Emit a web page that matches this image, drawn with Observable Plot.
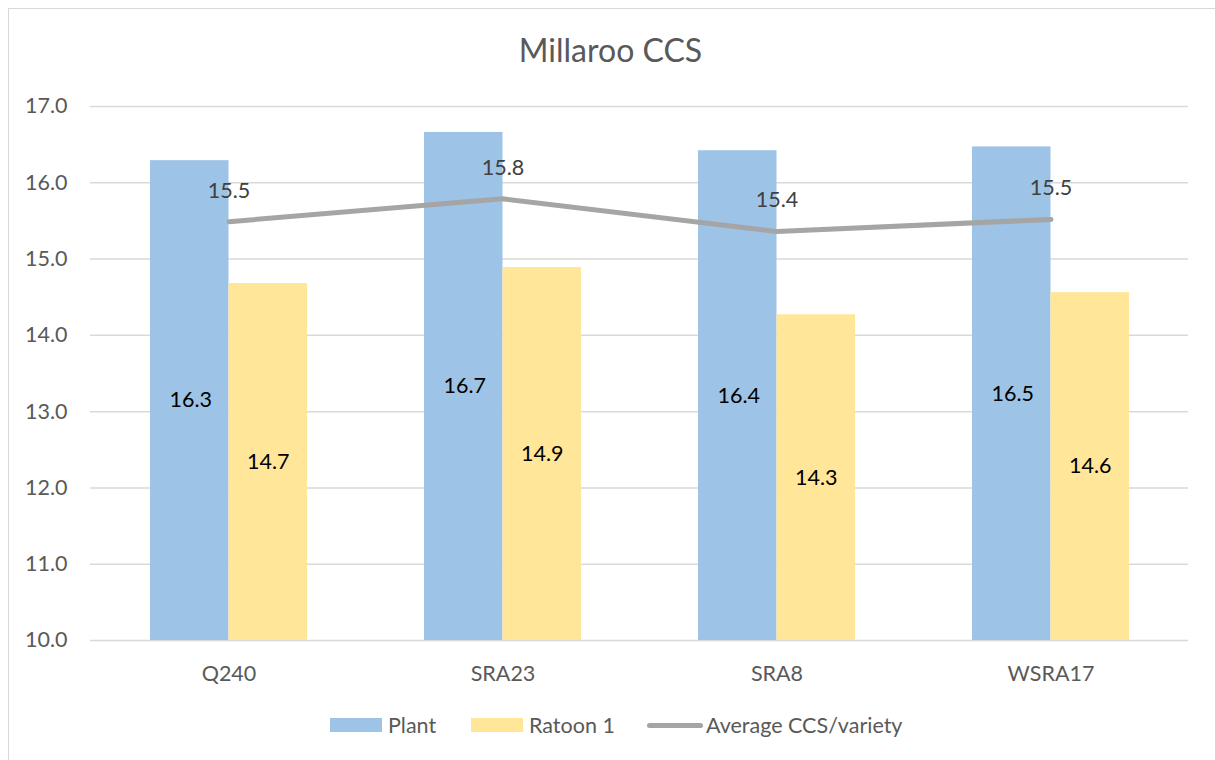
<!DOCTYPE html>
<html>
<head>
<meta charset="utf-8">
<script src="https://cdn.jsdelivr.net/npm/d3@7"></script>
<script src="https://cdn.jsdelivr.net/npm/@observablehq/plot@0.6"></script>
<style>
  html, body { margin: 0; padding: 0; background: #fff; }
  body { width: 1215px; height: 760px; position: relative; overflow: hidden; font-family: Lato, "Open Sans", sans-serif; }
  #frame { position: absolute; left: 8px; top: 8px; width: 1300px; height: 900px; border-top: 1.5px solid #d9d9d9; border-left: 1.5px solid #d9d9d9; }
  #title { position: absolute; left: 0; width: 1221px; top: 30px; text-align: center; font-size: 32px; color: #595959; line-height: 40px; }
  #chart { position: absolute; left: 0; top: 0; }
  #legend { position: absolute; left: 0; top: 713px; height: 24px; width: 1215px; font-size: 21.5px; color: #595959; }
  .item { position: absolute; top: 0; display: flex; align-items: center; height: 24px; white-space: nowrap; }
  .sw { display: inline-block; width: 52px; height: 14px; margin-right: 6px; }
  .ln { display: inline-block; width: 56px; height: 5px; border-radius: 3px; background: #a5a5a5; margin-right: 3px; }
</style>
</head>
<body>
<div id="frame"></div>
<div id="title">Millaroo CCS</div>
<div id="chart"></div>
<div id="legend">
  <div class="item" style="left:330px"><span class="sw" style="background:#9dc3e6"></span>Plant</div>
  <div class="item" style="left:471px"><span class="sw" style="background:#ffe699"></span>Ratoon 1</div>
  <div class="item" style="left:647px"><span class="ln"></span>Average CCS/variety</div>
</div>
<script>
const categories = ["Q240", "SRA23", "SRA8", "WSRA17"];
const plant = [16.29, 16.66, 16.42, 16.47];
const ratoon = [14.68, 14.89, 14.27, 14.56];
const average = [15.49, 15.79, 15.36, 15.52];
const yTicks = [10, 11, 12, 13, 14, 15, 16, 17];

const plantData = categories.map((c, i) => ({category: c, value: plant[i]}));
const ratoonData = categories.map((c, i) => ({category: c, value: ratoon[i]}));
const avgData = categories.map((c, i) => ({category: c, value: average[i]}));

const W = 1215, H = 700;
const half = 157 / 2;
const FS = 21.5;

const chart = Plot.plot({
  width: W,
  height: H,
  marginLeft: 90,
  marginRight: 27,
  marginTop: 106,
  marginBottom: 60,
  style: { fontFamily: "Lato, 'Open Sans', sans-serif", fontSize: FS + "px", background: "transparent", overflow: "visible" },
  x: { domain: categories, paddingInner: 0.428, paddingOuter: 0.214, label: null, tickSize: 0, tickPadding: 25 },
  y: { domain: [10, 17], label: null, ticks: yTicks, tickFormat: d => d.toFixed(1), tickSize: 0, tickPadding: 23 },
  marks: [
    Plot.ruleY(yTicks, { stroke: "#d9d9d9", strokeWidth: 1.5 }),
    Plot.barY(plantData, { x: "category", y1: 10, y2: "value", fill: "#9dc3e6", insetRight: half }),
    Plot.barY(ratoonData, { x: "category", y1: 10, y2: "value", fill: "#ffe699", insetLeft: half }),
    Plot.text(plantData, { x: "category", y: d => (d.value + 10) / 2, text: d => d.value.toFixed(1), dx: -half / 2 + 1, fill: "#000", fontSize: FS }),
    Plot.text(ratoonData, { x: "category", y: d => (d.value + 10) / 2, text: d => d.value.toFixed(1), dx: half / 2, fill: "#000", fontSize: FS }),
    Plot.lineY(avgData, { x: "category", y: "value", stroke: "#a5a5a5", strokeWidth: 5, strokeLinecap: "round", strokeLinejoin: "round" }),
    Plot.text(avgData, { x: "category", y: "value", text: d => d.value.toFixed(1), dy: -31, fill: "#404040", fontSize: FS }),
    Plot.axisX({ tickSize: 0, tickPadding: 25, fill: "#595959", fontSize: FS }),
    Plot.axisY({ ticks: yTicks, tickFormat: d => d.toFixed(1), tickSize: 0, tickPadding: 23, fill: "#595959", fontSize: FS })
  ]
});
document.getElementById("chart").appendChild(chart);
</script>
</body>
</html>
